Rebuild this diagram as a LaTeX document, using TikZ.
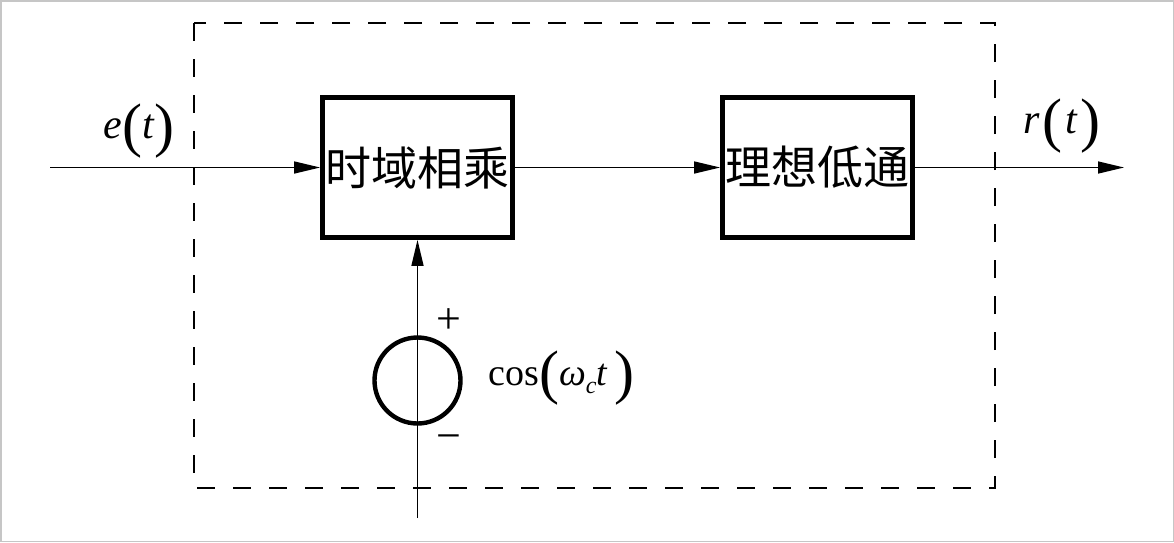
\documentclass[tikz,border=0pt]{standalone}
\usepackage{fontspec}
\setmainfont{Liberation Serif}
\newfontfamily\cjk{Noto Sans CJK SC}
\usepackage{tikz}
\usetikzlibrary{positioning,arrows.meta}
\tikzstyle{arrow} = [-{Triangle[length=13pt,width=6pt]}, line width=0.75pt]
\tikzstyle{block} = [draw, line width=2.4pt, minimum width=95pt, minimum height=70pt, inner sep=0pt, font=\cjk\fontsize{23}{23}\selectfont]
\tikzstyle{lbl} = [inner sep=0pt, font=\fontsize{21}{21}\selectfont]
\newcommand{\bpar}[1]{{\fontsize{30}{30}\selectfont\raisebox{-3.5pt}{#1}}}

\begin{document}
\begin{tikzpicture}[x=0.5pt,y=-0.5pt]
    \useasboundingbox (0,0) rectangle (1174,542);
    \draw[gray!45, line width=0.75pt] (0.75,0.75) rectangle (1173.25,541.25);
    % dashed frame
    \draw[dash pattern=on 9pt off 9pt, line width=0.75pt] (194,23) rectangle (995,488);
    \node[block] (mult) at (417.5,167.5) {时域相乘};
    \node[block] (lpf) at (817.5,167.5) {理想低通};
    \node[draw, circle, line width=2.2pt, minimum size=43pt, inner sep=0pt] (osc) at (417.5,380.5) {};
    \coordinate (in) at (50,167.5);
    \coordinate (out) at (1124,167.5);
    \coordinate (gnd) at (417.5,518);
    \draw[arrow] (in) -- (mult);
    \draw[arrow] (mult) -- (lpf);
    \draw[arrow] (lpf) -- (out);
    \draw[arrow] (gnd) -- (mult.south);
    % labels
    \node[lbl, anchor=base] (ein) at (139,138) {\textit{e}\bpar{(}\textit{t}\bpar{)}};
    \node[lbl, anchor=base] (rout) at (1062,133) {\textit{r}\kern1.5pt\bpar{(}\kern1.5pt\textit{t}\kern1.5pt\bpar{)}};
    \node[lbl, anchor=base west, font=\fontsize{19}{19}\selectfont] (wc) at (488,385) {cos\bpar{(}\textit{ω}\raisebox{-4pt}{\fontsize{12}{12}\selectfont\textit{c}}\textit{t}\,\bpar{)}};
    \node[lbl, font=\fontsize{22}{22}\selectfont] (plus) at (449,321) {+};
    \node[lbl, font=\fontsize{22}{22}\selectfont] (minus) at (449,443) {−};
\end{tikzpicture}
\end{document}
